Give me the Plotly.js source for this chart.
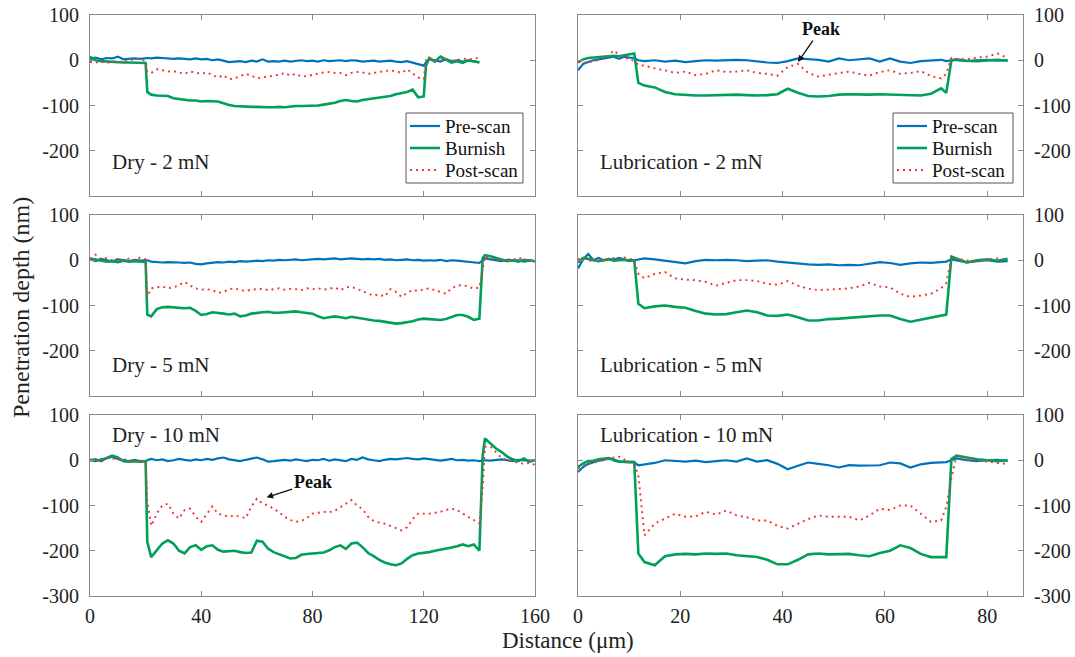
<!DOCTYPE html>
<html>
<head>
<meta charset="utf-8">
<script src="https://cdn.plot.ly/plotly-3.0.1.min.js"></script>
<style>
  html, body { margin: 0; padding: 0; background: #fff; }
  #chart { width: 1075px; height: 657px; }
</style>
</head>
<body>
<div id="chart"></div>
<script>
// ---------- Dry panels: distance grid (µm) ----------
const dry2X = [
  0, 2, 4, 6, 8, 10, 12, 14, 16, 18, 20,
  20.6,
  22, 24, 26, 28, 30, 32, 34, 36, 38, 40,
  42, 44, 46, 48, 50, 52, 54, 56, 58, 60,
  62, 64, 66, 68, 70, 72, 74, 76, 78, 80,
  82, 84, 86, 88, 90, 92, 94, 96, 98, 100,
  102, 104, 106, 108, 110, 112, 114, 116, 118, 120,
  120.8,
  122, 124, 126, 128, 130, 132, 134, 136, 138, 140
];
const dry2Pre = [
  3, 6, 2, 5, 4, 8, 2, 3, 4, 3, 5,
  5,
  4, 6, 5, 4, 3, 4, 3, 2, 4, 2,
  3, 0, 2, -1, -4, -3, -2, -4, -1, -3,
  2, -3, -2, -3, -1, -3, -2, 0, -2, -1,
  -3, 0, -2, -1, 0, -2, 0, -1, -3, -2,
  -1, -3, -2, -1, -3, -4, -2, -5, -8, -12,
  -5,
  2, 0, -3, 2, -2, 0, -3, -1, -2, -4
];
const dry2Burnish = [
  8, 0, -2, -3, -4, -5, -5, -5, -5, -5, -6,
  -70,
  -76, -78, -78, -79, -84, -86, -88, -89, -89, -91,
  -90, -91, -91, -95, -99, -101, -102, -103, -103, -103,
  -104, -104, -104, -103, -104, -102, -101, -101, -101, -100,
  -100, -98, -96, -94, -90, -88, -90, -91, -88, -86,
  -85, -82, -80, -79, -75, -72, -70, -65, -82, -80,
  -12,
  5, -3, 8, 2, -5, -2, -6, 0, -3, -5
];
const dry2Post = [
  -4, -5, -3, -6, -3, -2, -5, 0, 2, 3, -2,
  -25,
  -28, -20, -22, -25, -24, -27, -30, -25, -28, -30,
  -27, -32, -38, -33, -42, -40, -35, -30, -34, -40,
  -38, -36, -35, -32, -28, -34, -30, -36, -35, -32,
  -30, -27, -26, -28, -28, -33, -28, -26, -27, -30,
  -28, -26, -25, -22, -25, -28, -20, -30, -38, -42,
  0,
  5, -3, 0, 3, -2, 0, 4, 2, 3, 6
];

const dry5X = [
  0, 2, 4, 6, 8, 10, 12, 14, 16, 18, 20,
  20.6,
  22, 24, 26, 28, 30, 32, 34, 36, 38, 40,
  42, 44, 46, 48, 50, 52, 54, 56, 58, 60,
  62, 64, 66, 68, 70, 72, 74, 76, 78, 80,
  82, 84, 86, 88, 90, 92, 94, 96, 98, 100,
  102, 104, 106, 108, 110, 112, 114, 116, 118, 120,
  122, 124, 126, 128, 130, 132, 134, 136, 138, 140,
  141.2,
  142, 144, 146, 148, 150, 152, 154, 156, 158, 160
];
const dry5Pre = [
  2, -2, 3, 0, -3, 2, 0, -2, 1, -1, 0,
  0,
  -3, -4, -5, -4, -4, -5, -6, -5, -8, -9,
  -7, -5, -4, -5, -3, -4, -2, -3, -2, -1,
  -2, 0, -1, 1, 0, 1, 2, 0, 1, 2,
  3, 2, 3, 4, 2, 3, 4, 3, 2, 3,
  2, 3, 1, 2, 0, 1, 2, 0, 1, -1,
  0, -1, 1, -2, 0, -1, -2, -3, -4, -6,
  0,
  4, 2, 0, -2, 1, -1, 0, -3, -1, -2
];
const dry5Burnish = [
  4, 2, 0, -3, -2, -4, -1, -3, -2, -3, -4,
  -120,
  -124, -108, -104, -103, -104, -105, -106, -105, -112, -121,
  -119, -115, -116, -118, -120, -118, -124, -122, -118, -116,
  -115, -114, -116, -116, -115, -114, -113, -115, -117, -118,
  -124, -128, -126, -124, -126, -128, -125, -127, -130, -132,
  -133, -134, -136, -138, -140, -139, -137, -135, -131, -129,
  -130, -131, -132, -130, -126, -121, -121, -125, -132, -129,
  5,
  11, 9, 5, 2, -2, 0, -3, 1, -1, -2
];
const dry5Post = [
  3, 12, 2, 5, 0, 3, -2, 4, 0, 6, 2,
  -80,
  -62, -60, -58, -62, -60, -55, -48, -56, -62, -65,
  -64, -66, -72, -70, -64, -62, -66, -68, -65, -64,
  -63, -66, -64, -62, -65, -63, -64, -66, -62, -64,
  -62, -65, -63, -60, -66, -60, -59, -63, -68, -74,
  -78, -76, -80, -64, -70, -81, -72, -66, -68, -64,
  -62, -66, -70, -74, -62, -56, -55, -58, -63, -60,
  -20,
  8, 2, 5, -2, 3, 0, 6, 2, -3, 8
];

const dry10X = dry5X;
const dry10Pre = [
  0, -2, 2, 4, 8, 3, 0, -2, 1, -2, -3,
  0,
  3, 0, 2, -2, 0, 3, 1, -1, 2, 0,
  3, 1, 4, 6, 2, 0, -2, 1, 3, 6,
  2, -3, -2, 0, 1, -1, 2, 0, -2, 1,
  0, 3, -1, 2, 0, -2, 3, 1, 6, 2,
  0, -2, 1, 3, 2, 4, 5, 3, 2, 4,
  2, 0, -1, 1, 3, 0, 1, -1, 0, -2,
  0,
  0, -1, 0, 2, 0, -2, 1, 0, -1, 0
];
const dry10Burnish = [
  0, 2, -2, 5, 10, 6, -2, -3, -2, -3, -2,
  -180,
  -214, -200, -184, -177, -184, -200, -206, -192, -188, -198,
  -190, -188, -198, -202, -201, -200, -203, -205, -204, -178,
  -180, -195, -203, -208, -212, -217, -216, -209, -207, -206,
  -206, -204, -199, -192, -188, -196, -184, -182, -192, -205,
  -212, -220, -226, -230, -232, -228, -218, -210, -206, -205,
  -203, -200, -198, -196, -193, -190, -186, -190, -186, -200,
  10,
  48, 36, 26, 18, 8, 2, -2, 4, -3, 0
];
const dry10Post = [
  2, 0, -3, 5, 4, 0, 3, -2, -5, 0, -3,
  -90,
  -145, -118, -100, -96, -118, -129, -110, -107, -125, -136,
  -118, -102, -118, -122, -125, -122, -125, -128, -103, -85,
  -96, -100, -107, -115, -125, -132, -136, -134, -128, -118,
  -116, -114, -115, -112, -104, -96, -88, -100, -108, -125,
  -134, -138, -140, -145, -150, -155, -148, -130, -118, -118,
  -118, -116, -114, -110, -107, -110, -118, -125, -132, -140,
  -60,
  30, 30, 18, 5, 0, -3, -5, -8, -6, -10
];

// ---------- Lubrication panels: distance grid (µm) ----------
const lubX = [
  0, 1, 2, 3, 4, 5, 6, 7, 8, 9, 10, 11,
  11.8,
  13, 15, 17, 19, 21, 23, 25, 27, 29, 31,
  33, 35, 37, 39, 41, 43, 45, 47, 49, 51,
  53, 55, 57, 59, 61, 63, 65, 67, 69, 71,
  72, 73,
  74, 76, 78, 80, 82, 84
];
const lub2Pre = [
  -22, -8, -4, 0, 2, 4, 6, 8, 3, 8, 6, 5,
  0,
  -2, 0, -3, -1, -4, -2, 0, -1, 0, 1,
  0, -3, -5, -6, -2, 4, 3, 1, -3, 4,
  0, 2, 4, -3, 4, -3, -6, -2, 0, 1,
  -2, 0,
  0, -2, 0, 1, -1, 0
];
const lub2Burnish = [
  -5, 2, 5, 6, 8, 8, 9, 10, 9, 11, 12, 15,
  -50,
  -56, -60, -70, -75, -77, -78, -78, -77, -76, -76,
  -77, -78, -77, -75, -63, -72, -79, -80, -79, -76,
  -75, -76, -76, -75, -76, -77, -78, -78, -74, -62,
  -72, 0,
  2, -1, -2, 0, 1, -1
];
const lub2Post = [
  -3, -6, -4, -2, 0, 4, 10, 22, 12, 6, 3, -2,
  -10,
  -12, -18, -22, -28, -25, -33, -30, -22, -26, -25,
  -22, -28, -30, -34, -15, -8, -28, -36, -32, -28,
  -25, -30, -34, -26, -22, -30, -28, -24, -35, -40,
  -30, 5,
  3, 2, 6, 8, 15, 5
];

const lub5Pre = [
  -18, 2, 14, 0, 5, 0, 3, 1, 5, 2, -2, 0,
  2,
  4, 2, -1, -3, -7, -2, 1, 0, 1, 0,
  -2, -1, 0, -3, -5, -8, -9, -10, -9, -11,
  -10, -11, -8, -4, -6, -10, -7, -5, -6, -4,
  -3, 2,
  0, -5, -2, 0, -3, -2
];
const lub5Burnish = [
  -5, 5, 3, 0, -2, 0, 2, -1, 0, 1, 0, 0,
  -96,
  -106, -102, -100, -103, -105, -112, -118, -120, -119, -115,
  -111, -115, -122, -123, -120, -126, -133, -133, -130, -129,
  -127, -125, -123, -122, -122, -130, -136, -131, -127, -122,
  -120, 8,
  4, -5, 0, 2, -1, 3
];
const lub5Post = [
  2, 5, 0, -2, 3, 0, 3, 5, 2, 6, 4, 0,
  -30,
  -40, -30, -26, -40, -43, -44, -48, -56, -50, -44,
  -44, -46, -52, -54, -46, -56, -63, -66, -65, -64,
  -62, -58, -50, -58, -60, -74, -81, -78, -74, -62,
  -50, 5,
  3, 0, -4, 2, 4, 0
];

const lub10Pre = [
  -26, -15, -8, -4, -1, 1, 4, 2, -3, -4, -4, -5,
  -11,
  -9, -6, 0, -2, -3, -1, -4, -2, 0, -3,
  4, -3, 0, -8, -20, -12, -5, -8, -11, -16,
  -11, -12, -12, -11, -5, -7, -16, -9, -6, -4,
  -4, 0,
  4, 0, -2, 0, 1, -2
];
const lub10Burnish = [
  -15, -7, -2, -1, 2, 3, 5, 0, -3, -3, -3, -4,
  -206,
  -225, -232, -212, -208, -207, -208, -206, -207, -206, -210,
  -212, -214, -220, -230, -230, -220, -208, -206, -208, -208,
  -207, -210, -212, -205, -200, -188, -194, -207, -214, -214,
  -214, 3,
  10, 6, 2, 0, -2, 0
];
const lub10Post = [
  -18, -12, -8, -5, -2, 0, 4, 6, 8, 2, -4, -8,
  -33,
  -166, -140, -129, -118, -125, -124, -114, -120, -111, -122,
  -126, -133, -133, -145, -151, -140, -130, -122, -125, -125,
  -125, -133, -122, -107, -110, -100, -100, -118, -136, -133,
  -103, -40,
  10, 2, 0, -3, -6, -8
];

// ---------- Labels ----------
const seriesNames = ['Pre-scan', 'Burnish', 'Post-scan'];
const panelLabels = ['Dry - 2 mN', 'Lubrication - 2 mN', 'Dry - 5 mN',
                     'Lubrication - 5 mN', 'Dry - 10 mN', 'Lubrication - 10 mN'];
const dryTicks = [0, 40, 80, 120, 160];
const lubTicks = [0, 20, 40, 60, 80];
const depthTicks = [-300, -200, -100, 0, 100];

// ---------- Styling ----------
const W = 1075, H = 657;
const FONT = 'Liberation Serif, Times New Roman, serif';
const BLUE = '#0072BD', GREEN = '#00A05A', RED = '#F03535';
const AXIS = '#8a8a8a';
const px = v => v / W;
const py = v => 1 - v / H;

const colX = [[90, 535], [578, 1023]];
const rowY = [[15, 196], [215, 396], [415, 596]];

const panels = [
  { x: dry2X,  s: [dry2Pre,  dry2Burnish,  dry2Post],  key: [406, 523] },
  { x: lubX,   s: [lub2Pre,  lub2Burnish,  lub2Post],  key: [893, 1013] },
  { x: dry5X,  s: [dry5Pre,  dry5Burnish,  dry5Post] },
  { x: lubX,   s: [lub5Pre,  lub5Burnish,  lub5Post] },
  { x: dry10X, s: [dry10Pre, dry10Burnish, dry10Post] },
  { x: lubX,   s: [lub10Pre, lub10Burnish, lub10Post] }
];

const lineStyles = [
  { color: BLUE, width: 2.2 },
  { color: GREEN, width: 2.6 },
  { color: RED, width: 1.9, dash: '2px,4px' }
];

const traces = [];
const layout = {
  width: W, height: H,
  margin: { l: 0, r: 0, t: 0, b: 0 },
  paper_bgcolor: '#fff', plot_bgcolor: '#fff',
  font: { family: FONT, size: 20, color: '#222' },
  showlegend: false,
  annotations: [],
  shapes: []
};

// compact boxed key drawn inside a panel (line sample + series name per row)
function addKey(x0, x1) {
  const y0 = 113, y1 = 183, rows = [126, 148, 170];
  layout.shapes.push({
    type: 'rect', xref: 'paper', yref: 'paper', layer: 'above',
    x0: px(x0), x1: px(x1), y0: py(y1), y1: py(y0),
    line: { color: '#555', width: 1 }, fillcolor: '#fff'
  });
  rows.forEach((ry, k) => {
    layout.shapes.push({
      type: 'line', xref: 'paper', yref: 'paper', layer: 'above',
      x0: px(x0 + 4), x1: px(x0 + 34), y0: py(ry), y1: py(ry),
      line: Object.assign({}, lineStyles[k])
    });
    layout.annotations.push({
      xref: 'paper', yref: 'paper', x: px(x0 + 37), y: py(ry),
      xanchor: 'left', yanchor: 'middle', showarrow: false,
      text: seriesNames[k],
      font: { family: FONT, size: 19, color: '#111' }
    });
  });
}

panels.forEach((p, i) => {
  const n = i + 1;
  const xa = n === 1 ? 'x' : 'x' + n;
  const ya = n === 1 ? 'y' : 'y' + n;
  const col = i % 2, row = Math.floor(i / 2);
  p.s.forEach((ys, k) => {
    traces.push({
      type: 'scatter', mode: 'lines', x: p.x, y: ys,
      name: seriesNames[k], xaxis: xa, yaxis: ya,
      line: Object.assign({ shape: 'linear' }, lineStyles[k]),
      hoverinfo: 'skip'
    });
  });
  if (p.key) addKey(p.key[0], p.key[1]);

  const bottom = row === 2;
  const ticks = col === 0 ? dryTicks : lubTicks;
  layout['xaxis' + (n === 1 ? '' : n)] = {
    domain: [px(colX[col][0]), px(colX[col][1])],
    anchor: ya,
    range: col === 0 ? [0, 160] : [0, 87],
    tickmode: 'array', tickvals: ticks, ticktext: ticks.map(String),
    showticklabels: bottom,
    ticks: 'inside', ticklen: 5, tickcolor: AXIS, tickwidth: 1,
    showline: true, linecolor: AXIS, linewidth: 1, mirror: 'ticks',
    showgrid: false, zeroline: false,
    tickfont: { family: FONT, size: 20, color: '#222' },
    ticklabelstandoff: 2, fixedrange: true
  };
  const yt = bottom ? depthTicks : depthTicks.slice(1);
  layout['yaxis' + (n === 1 ? '' : n)] = {
    domain: [py(rowY[row][1]), py(rowY[row][0])],
    anchor: xa,
    side: col === 0 ? 'left' : 'right',
    range: [-300, 100],
    tickmode: 'array', tickvals: yt, ticktext: yt.map(v => String(v)),
    ticks: 'inside', ticklen: 5, tickcolor: AXIS, tickwidth: 1,
    showline: true, linecolor: AXIS, linewidth: 1, mirror: 'ticks',
    showgrid: false, zeroline: false,
    tickfont: { family: FONT, size: 20, color: '#222' },
    ticklabelstandoff: 6, fixedrange: true
  };

  // panel caption
  const labelY = [162, 365, 435][row];
  layout.annotations.push({
    xref: 'paper', yref: 'paper',
    x: px(col === 0 ? 110 : 598), y: py(labelY),
    xanchor: 'left', yanchor: 'middle', showarrow: false,
    text: panelLabels[i],
    font: { family: FONT, size: 21, color: '#222' }
  });
});

// "Peak" call-outs
layout.annotations.push({
  xref: 'x2', yref: 'y2', x: 43, y: -4,
  ax: 23, ay: -33, axref: 'pixel', ayref: 'pixel',
  text: '<b>Peak</b>', showarrow: true,
  arrowhead: 2, arrowsize: 1, arrowwidth: 1.3, arrowcolor: '#111',
  font: { family: FONT, size: 18, color: '#111' }
});
layout.annotations.push({
  xref: 'x5', yref: 'y5', x: 63.5, y: -82,
  ax: 46, ay: -15, axref: 'pixel', ayref: 'pixel',
  text: '<b>Peak</b>', showarrow: true,
  arrowhead: 2, arrowsize: 1, arrowwidth: 1.3, arrowcolor: '#111',
  font: { family: FONT, size: 18, color: '#111' }
});

// shared axis titles
layout.annotations.push({
  xref: 'paper', yref: 'paper', x: px(21), y: py(308),
  xanchor: 'center', yanchor: 'middle', textangle: -90, showarrow: false,
  text: 'Penetration depth (nm)',
  font: { family: FONT, size: 24, color: '#222' }
});
layout.annotations.push({
  xref: 'paper', yref: 'paper', x: px(568), y: py(640),
  xanchor: 'center', yanchor: 'middle', showarrow: false,
  text: 'Distance (μm)', borderpad: 0,
  font: { family: FONT, size: 23, color: '#222' }
});

Plotly.newPlot('chart', traces, layout, { displayModeBar: false, staticPlot: true });
</script>
</body>
</html>
